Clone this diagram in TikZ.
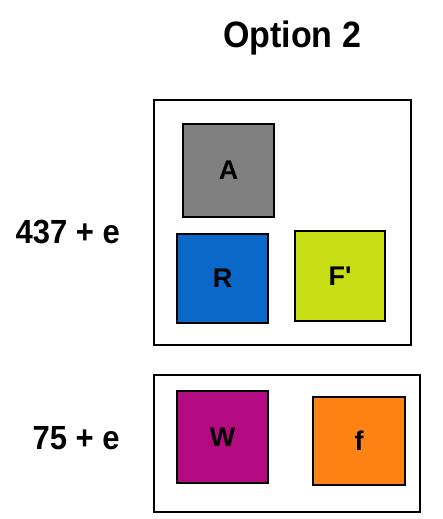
\documentclass[tikz,border=0pt]{standalone}
\usepackage{fontspec}
\setmainfont{Liberation Sans}
\newfontfamily\tilefont{Liberation Sans}
\definecolor{tilegray}{RGB}{128,128,128}
\definecolor{tileblue}{RGB}{10,104,200}
\definecolor{tilelime}{RGB}{200,222,20}
\definecolor{tilemagenta}{RGB}{180,10,130}
\definecolor{tileorange}{RGB}{255,130,20}
\tikzset{frame/.style={draw=black,line width=2.4pt,inner sep=0pt},
  tile/.style={draw=black,line width=1.8pt,inner sep=0pt,
    font=\tilefont\fontsize{27}{31}\selectfont\bfseries},
  caption/.style={font=\fontsize{31}{36}\selectfont\bfseries,yscale=1.08}}
\begin{document}
\begin{tikzpicture}[x=1pt,y=-1pt]
  \useasboundingbox (0,0) rectangle (442,519);
  \node[caption,font=\fontsize{34}{40}\selectfont\bfseries] (title) at (292,38) {Option 2};
  % upper group
  \node[frame,minimum width=257pt,minimum height=245pt] (upper) at (282.5,222.5) {};
  \node[tile,fill=tilegray,minimum width=91pt,minimum height=93pt] (a) at (228.5,170.5) {A};
  \node[tile,fill=tilelime,minimum width=90pt,minimum height=90pt] (fp) at (340,276) {F'};
  \node[tile,fill=tileblue,minimum width=91pt,minimum height=89pt] (r) at (222.5,278.5) {R};
  \node[caption,anchor=west] (upperlbl) at (12,232) {437 + e};
  % lower group
  \node[frame,minimum width=266pt,minimum height=137pt] (lower) at (287,443.5) {};
  \node[tile,fill=tilemagenta,minimum width=91pt,minimum height=92pt] (w) at (222.5,437) {W};
  \node[tile,fill=tileorange,minimum width=92pt,minimum height=88pt] (f) at (359,441) {f};
  \node[caption,anchor=west] (lowerlbl) at (29,438) {75 + e};
\end{tikzpicture}
\end{document}
